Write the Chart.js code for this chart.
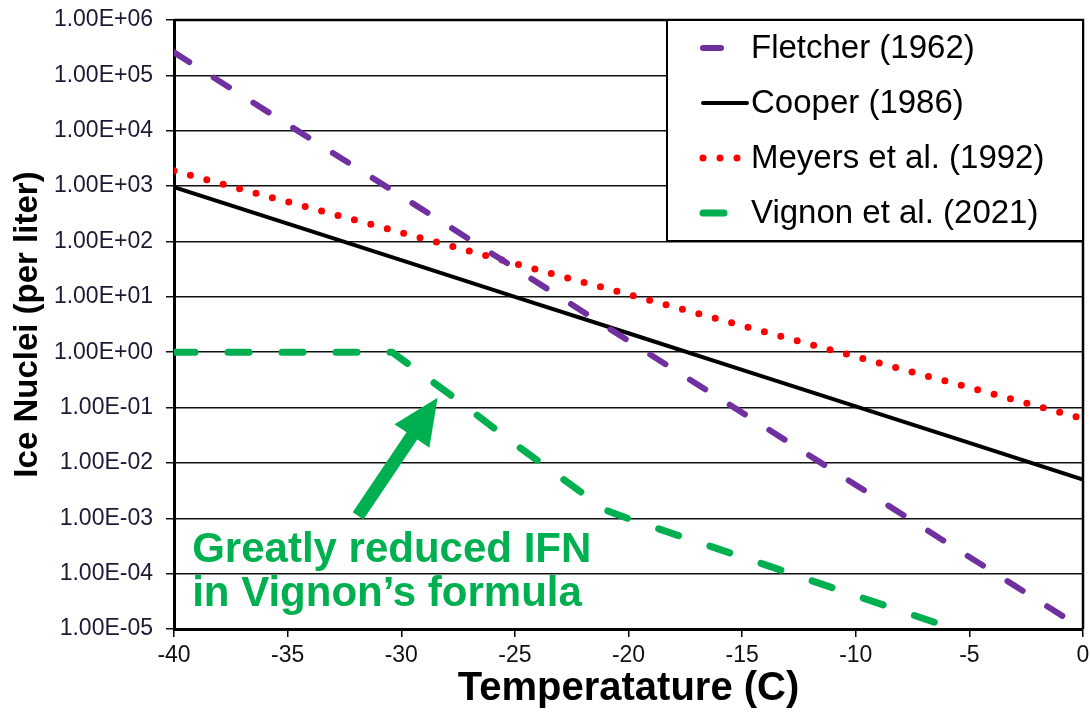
<!DOCTYPE html>
<html>
<head>
<meta charset="utf-8">
<script src="https://cdn.jsdelivr.net/npm/chart.js@4.4.0/dist/chart.umd.min.js"></script>
<style>
  html, body { margin: 0; padding: 0; background: #fff; }
  #wrap { width: 1090px; height: 713px; position: relative; }
</style>
</head>
<body>
<div id="wrap"><canvas id="chart__ice__nuclei"></canvas></div>
<script>
// temperatures (C) and ice nuclei (per liter)
const temps = [-40, -35, -30, -25, -20, -15, -10, -5, 0];
const fletcher = [2.6e5, 1.3e4, 6.6e2, 3.3e1, 1.6e0, 8.1e-2, 4.0e-3, 2.0e-4, 1.0e-5];
const cooper = [9.6e2, 2.1e2, 4.6e1, 1.0e1, 2.2e0, 4.8e-1, 1.05e-1, 2.3e-2, 5.0e-3];
const meyers = [1.9e3, 5.2e2, 1.45e2, 4.0e1, 1.1e1, 3.0e0, 8.3e-1, 2.3e-1, 6.3e-2];
const vignonTemps = [-40, -35, -30.4, -28, -25, -21, -20, -15, -10, -5];
const vignon = [1, 1, 1, 1.9e-1, 2.2e-2, 1.4e-3, 9.8e-4, 2.0e-4, 4.0e-5, 8.1e-6];

const yTicks = [1e6, 1e5, 1e4, 1e3, 1e2, 1e1, 1e0, 1e-1, 1e-2, 1e-3, 1e-4, 1e-5];
const xTickStep = 5;

const seriesLabels = ['Fletcher (1962)', 'Cooper (1986)', 'Meyers et al. (1992)', 'Vignon et al. (2021)'];

// annotation, in data units
const noteLines = ['Greatly reduced IFN', 'in Vignon\u2019s formula'];
const noteAt = [{ x: -39.2, y: 1.6e-4 }, { x: -39.2, y: 2.6e-5 }];
const arrowTail = { x: -31.9, y: 1.1e-3 };
const arrowTip = { x: -28.4, y: 0.15 };

const GREEN = '#00B050';
const FONT = '"Liberation Sans", Arial, sans-serif';

function toPoints(xs, ys) {
    return xs.map((x, i) => ({ x: x, y: ys[i] }));
}

function sciLabel(v) {
    const parts = v.toExponential(2).split('e');
    const sign = parts[1][0];
    const digits = parts[1].slice(1).padStart(2, '0');
    return parts[0] + 'E' + sign + digits;
}

// frame on top/right, legend box and the green note
const extras = {
    id: 'extras',
    afterDraw(chart) {
        const ctx = chart.ctx;
        const a = chart.chartArea;
        const xs = chart.scales.x;
        const ys = chart.scales.y;

        ctx.save();
        ctx.strokeStyle = '#000';
        ctx.lineWidth = 2.5;
        ctx.beginPath();
        ctx.moveTo(a.left, a.top);
        ctx.lineTo(a.right, a.top);
        ctx.lineTo(a.right, a.bottom);
        ctx.stroke();

        // legend
        const w = 416, h = 221;
        const lx = a.right - w, ly = a.top;
        ctx.fillStyle = '#fff';
        ctx.fillRect(lx, ly, w, h);
        ctx.lineWidth = 2;
        ctx.strokeRect(lx, ly, w, h);
        chart.data.datasets.forEach((ds, i) => {
            const cy = ly + 28 + i * 55;
            ctx.save();
            ctx.strokeStyle = ds.borderColor;
            ctx.lineWidth = ds.borderWidth;
            ctx.lineCap = 'round';
            ctx.setLineDash(ds.borderDash || []);
            ctx.beginPath();
            ctx.moveTo(lx + 36, cy);
            ctx.lineTo(lx + 80, cy);
            ctx.stroke();
            ctx.restore();
            ctx.fillStyle = '#000';
            ctx.font = '33px ' + FONT;
            ctx.textBaseline = 'middle';
            ctx.fillText(ds.label, lx + 84, cy + 1);
        });

        // arrow
        const tx = xs.getPixelForValue(arrowTail.x), ty = ys.getPixelForValue(arrowTail.y);
        const hx = xs.getPixelForValue(arrowTip.x), hy = ys.getPixelForValue(arrowTip.y);
        const ang = Math.atan2(hy - ty, hx - tx);
        const headLen = 46, headHalf = 21, shaftHalf = 6.5;
        const bx = hx - headLen * Math.cos(ang), by = hy - headLen * Math.sin(ang);
        const nx = -Math.sin(ang), ny = Math.cos(ang);
        ctx.fillStyle = GREEN;
        ctx.beginPath();
        ctx.moveTo(tx + nx * shaftHalf, ty + ny * shaftHalf);
        ctx.lineTo(bx + nx * shaftHalf, by + ny * shaftHalf);
        ctx.lineTo(bx + nx * headHalf, by + ny * headHalf);
        ctx.lineTo(hx, hy);
        ctx.lineTo(bx - nx * headHalf, by - ny * headHalf);
        ctx.lineTo(bx - nx * shaftHalf, by - ny * shaftHalf);
        ctx.lineTo(tx - nx * shaftHalf, ty - ny * shaftHalf);
        ctx.closePath();
        ctx.fill();

        // note text
        ctx.font = 'bold 42px ' + FONT;
        ctx.textBaseline = 'alphabetic';
        noteLines.forEach((t, i) => {
            ctx.fillText(t, xs.getPixelForValue(noteAt[i].x), ys.getPixelForValue(noteAt[i].y));
        });
        ctx.restore();
    }
};

new Chart(document.getElementById('chart__ice__nuclei'), {
    type: 'line',
    data: {
        datasets: [{
            label: seriesLabels[0],
            data: toPoints(temps, fletcher),
            borderColor: '#7030A0',
            borderWidth: 6,
            borderDash: [18, 29],
            borderCapStyle: 'round'
        }, {
            label: seriesLabels[1],
            data: toPoints(temps, cooper),
            borderColor: '#000',
            borderWidth: 4
        }, {
            label: seriesLabels[2],
            data: toPoints(temps, meyers),
            borderColor: '#FF0000',
            borderWidth: 7,
            borderDash: [0, 17],
            borderCapStyle: 'round'
        }, {
            label: seriesLabels[3],
            data: toPoints(vignonTemps, vignon),
            borderColor: GREEN,
            borderWidth: 7,
            borderDash: [21, 33],
            borderCapStyle: 'round'
        }]
    },
    options: {
        responsive: true,
        maintainAspectRatio: false,
        animation: false,
        layout: { padding: { top: 20, right: 7, left: 0, bottom: 0 } },
        elements: { point: { radius: 0 }, line: { tension: 0 } },
        plugins: { legend: { display: false }, tooltip: { enabled: false } },
        scales: {
            x: {
                type: 'linear',
                min: -40,
                max: 0,
                afterFit: s => { s.height = 84; s.paddingLeft = 0; s.paddingRight = 0; },
                ticks: { stepSize: xTickStep, color: '#111', padding: 5, font: { family: FONT, size: 23 } },
                grid: { drawOnChartArea: false, drawTicks: true, tickLength: 8, color: '#000', lineWidth: 1.5 },
                border: { display: true, color: '#000', width: 3 },
                title: { display: true, text: 'Temperatature (C)', color: '#000', padding: { top: 0, bottom: 0 }, font: { family: FONT, size: 40, weight: 'bold' } }
            },
            y: {
                type: 'logarithmic',
                min: 1e-5,
                max: 1e6,
                afterFit: s => { s.width = 174; s.paddingTop = 0; s.paddingBottom = 0; },
                afterBuildTicks: s => { s.ticks = yTicks.map(v => ({ value: v })); },
                ticks: { callback: v => sciLabel(v), color: '#1a1a33', padding: 13, font: { family: FONT, size: 23 } },
                grid: { color: '#111', lineWidth: 1.5, tickLength: 8 },
                border: { display: true, color: '#000', width: 3 },
                title: { display: true, text: 'Ice Nuclei (per liter)', color: '#000', padding: { top: 8, bottom: 0 }, font: { family: FONT, size: 33, weight: 'bold' } }
            }
        }
    },
    plugins: [extras]
});
</script>
</body>
</html>
